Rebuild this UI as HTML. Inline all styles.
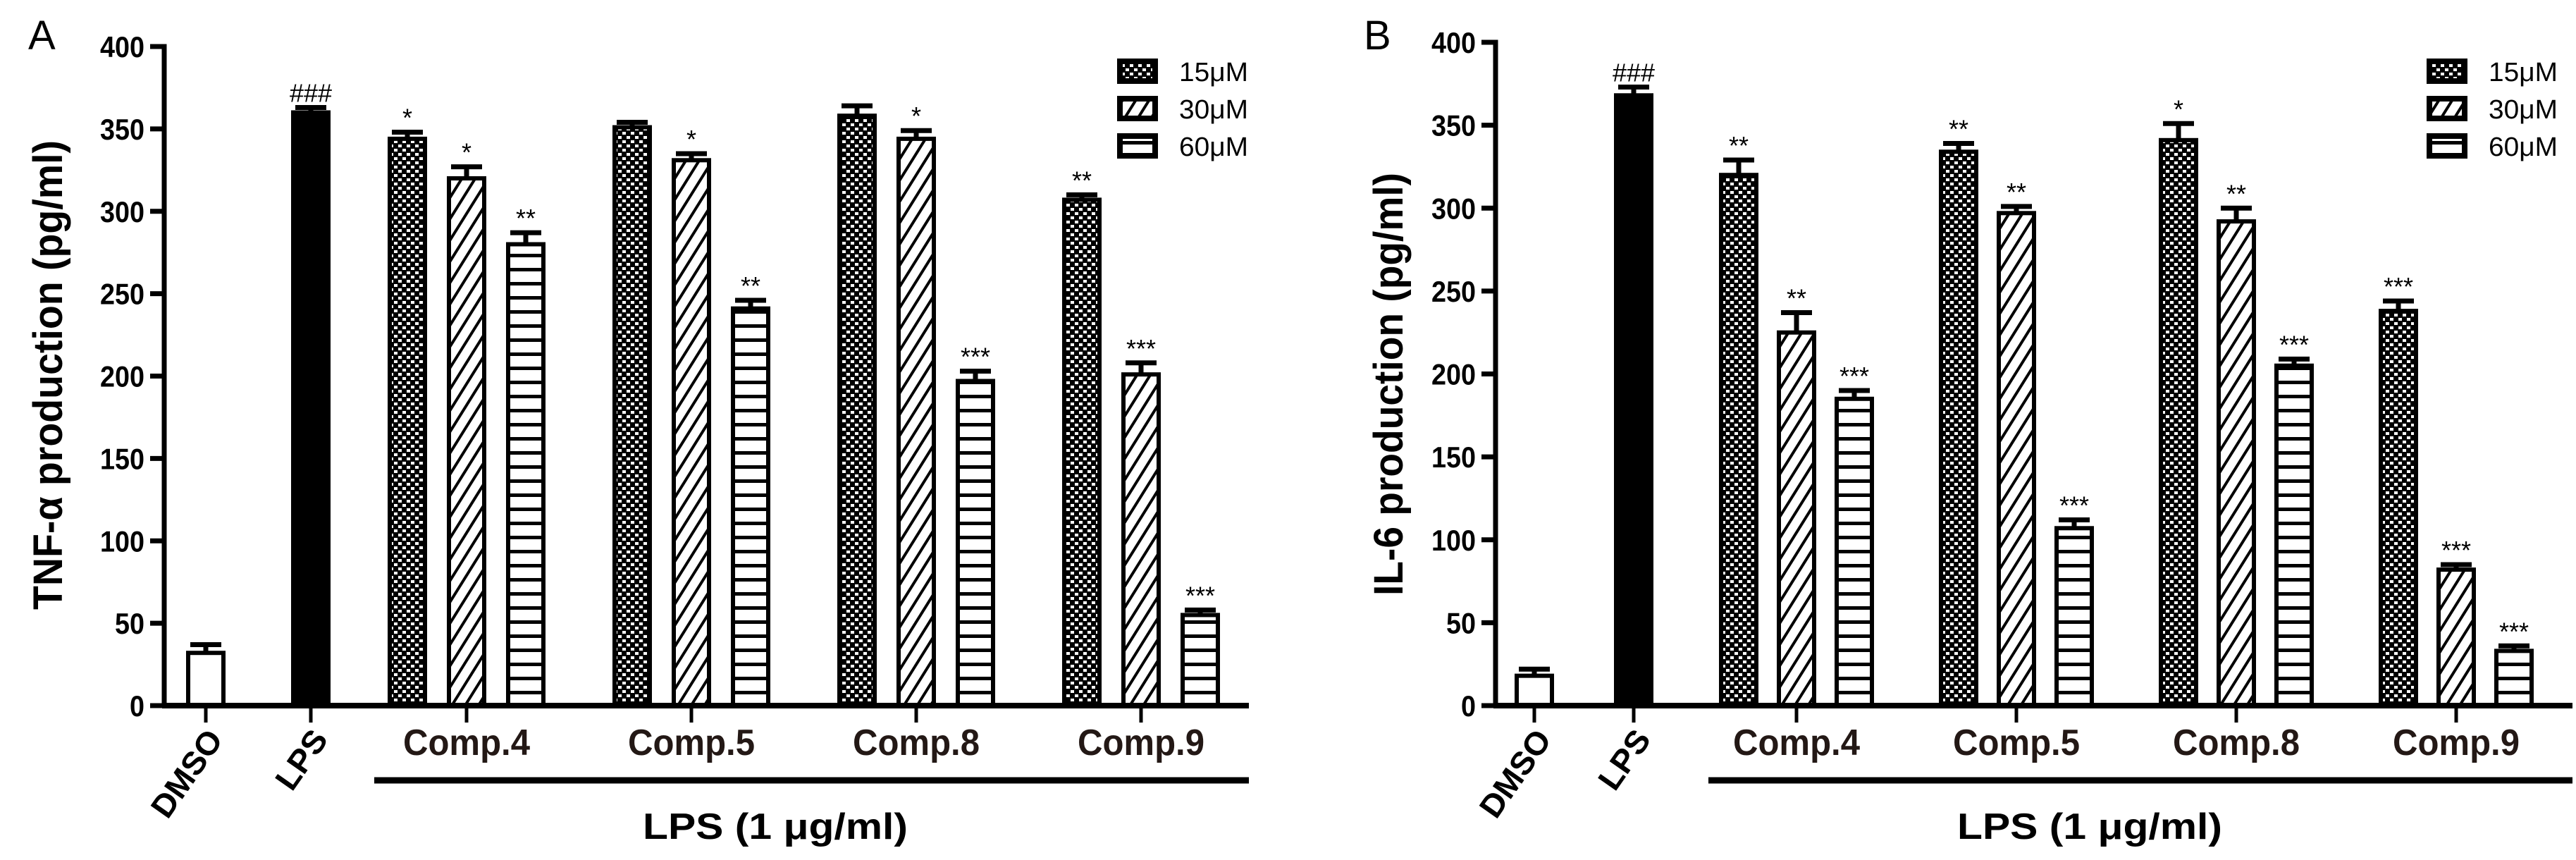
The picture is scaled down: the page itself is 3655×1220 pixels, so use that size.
<!DOCTYPE html>
<html><head><meta charset="utf-8"><title>TNF-α and IL-6 production</title>
<style>html,body{margin:0;padding:0;background:#fff}svg{display:block}text{font-family:"Liberation Sans",Arial,sans-serif}</style></head>
<body>
<svg id="chart" xmlns="http://www.w3.org/2000/svg" width="3655" height="1220" viewBox="0 0 3655 1220">
<defs>
<pattern id="p15" width="12" height="12" patternUnits="userSpaceOnUse">
<rect width="12" height="12" fill="#000"/><rect x="1" y="1" width="5" height="4" fill="#fff"/><rect x="7" y="7" width="5" height="4" fill="#fff"/></pattern>
<pattern id="p30" width="16" height="16" patternUnits="userSpaceOnUse" patternTransform="rotate(-58)">
<rect width="16" height="16" fill="#fff"/><rect width="16" height="4" fill="#000"/></pattern>
<pattern id="p60" width="20" height="20" patternUnits="userSpaceOnUse">
<rect width="20" height="20" fill="#fff"/><rect y="0" width="20" height="5" fill="#000"/></pattern>
</defs>
<g id="root"></g>
</svg>
<script>
// ---- data ----
const yTicks = [0, 50, 100, 150, 200, 250, 300, 350, 400];
const doseLabels = ["15μM", "30μM", "60μM"];
const compounds = ["Comp.4", "Comp.5", "Comp.8", "Comp.9"];
const tnfDMSO = 32, tnfDMSOErr = 5;
const tnfLPS = 360, tnfLPSErr = 3;
const tnf15 = [344, 351, 358, 307];
const tnf30 = [320, 331, 344, 201];
const tnf60 = [280, 241, 197, 55];
const tnf15Err = [4, 3, 6, 3];
const tnf30Err = [7, 4, 5, 7];
const tnf60Err = [7, 5, 6, 3];
const tnf15Sig = ["*", "", "", "**"];
const tnf30Sig = ["*", "*", "*", "***"];
const tnf60Sig = ["**", "**", "***", "***"];
const il6DMSO = 18, il6DMSOErr = 4;
const il6LPS = 368, il6LPSErr = 5;
const il615 = [320, 334, 341, 238];
const il630 = [225, 297, 292, 82];
const il660 = [185, 107, 205, 33];
const il615Err = [9, 5, 10, 6];
const il630Err = [12, 4, 8, 3];
const il660Err = [5, 5, 4, 3];
const il615Sig = ["**", "**", "*", "***"];
const il630Sig = ["**", "**", "**", "***"];
const il660Sig = ["***", "***", "***", "***"];

const NS = "http://www.w3.org/2000/svg";
const root = document.getElementById('root');
function mk(tag, attrs, parent, txt) {
  const e = document.createElementNS(NS, tag);
  for (const k in attrs) e.setAttribute(k, attrs[k]);
  if (txt !== undefined) e.textContent = txt;
  (parent || root).appendChild(e);
  return e;
}

function panel(cfg) {
  const g = mk('g', {});
  
  
  const y = v => cfg.y0 - (v / 400) * (cfg.y0 - cfg.y400);
  const xDMSO = cfg.xDMSO, xLPS = cfg.xLPS;
  const gx = i => cfg.gStart + i * cfg.gStep;
  const bx = (i, j) => gx(i) + (j - 1) * cfg.bStep;
  const W = 56;
  function bar(cx, v, err, fill, sig, nm) {
    const r = mk('rect', {x: cx - W / 2 + 3, y: y(v), width: W - 6, height: cfg.y0 - y(v), fill: fill, stroke: '#000', 'stroke-width': 6}, g);
    
    
    const e = mk('path', {d: `M${cx} ${y(v)} V${y(v + err)} M${cx - 22} ${y(v + err)} H${cx + 22}`, stroke: '#000', 'stroke-width': 7, fill: 'none'}, g);
    
    
    if (sig) {
      const t = mk('text', {x: cx, y: y(v + err) - 8, 'text-anchor': 'middle', 'font-size': 36, fill: '#000'}, g, sig);
      
      
    }
  }
  bar(xDMSO, cfg.dmso, cfg.dmsoErr, '#fff', '', 'bar-dmso');
  bar(xLPS, cfg.lps, cfg.lpsErr, '#000', '###', 'bar-lps');
  const fills = ['url(#p15)', 'url(#p30)', 'url(#p60)'];
  for (let i = 0; i < 4; i++) {
    for (let j = 0; j < 3; j++) {
      bar(bx(i, j), cfg.vals[j][i], cfg.errs[j][i], fills[j], cfg.sigs[j][i], 'bar-' + compounds[i].toLowerCase().replace('.', '') + '-' + ['15', '30', '60'][j]);
    }
  }
  const ya = mk('path', {d: `M${cfg.ax - 20} ${cfg.y400} H${cfg.ax} V${cfg.y0}`, stroke: '#000', 'stroke-width': 7, fill: 'none'}, g);
  
  
  const xa = mk('line', {x1: cfg.ax - 3, x2: cfg.axEnd, y1: cfg.y0, y2: cfg.y0, stroke: '#000', 'stroke-width': 8}, g);
  
  
  yTicks.forEach(v => {
    const tk = mk('line', {x1: cfg.ax - 20, x2: cfg.ax, y1: y(v), y2: y(v), stroke: '#000', 'stroke-width': 7}, g);
    
    
    const s = String(v);
    const t = mk('text', {x: cfg.ax - 28, y: y(v) + 15, 'text-anchor': 'end', 'font-size': 42, 'font-weight': 'bold', textLength: 21 * s.length, lengthAdjust: 'spacingAndGlyphs'}, g, s);
    
    
  });
  const xt = [xDMSO, xLPS, gx(0), gx(1), gx(2), gx(3)];
  xt.forEach(x => {
    const tk = mk('line', {x1: x, x2: x, y1: cfg.y0, y2: cfg.y0 + 24, stroke: '#000', 'stroke-width': 5}, g);
    
    
  });
  [['DMSO', xDMSO, 140], ['LPS', xLPS, 92]].forEach(([s, x, L]) => {
    const t = mk('text', {x: 0, y: 0, 'text-anchor': 'end', 'font-size': 46, 'font-weight': 'bold', textLength: L, lengthAdjust: 'spacingAndGlyphs', transform: `translate(${x + 26},${cfg.y0 + 48}) rotate(-55)`}, g, s);
    
    
  });
  compounds.forEach((c, i) => {
    const t = mk('text', {x: gx(i), y: cfg.y0 + 70, 'text-anchor': 'middle', 'font-size': 52, 'font-weight': 'bold', fill: '#231815', textLength: 180, lengthAdjust: 'spacingAndGlyphs'}, g, c);
    
    
  });
  const ln = mk('line', {x1: cfg.lineStart, x2: cfg.axEnd, y1: 1107, y2: 1107, stroke: '#000', 'stroke-width': 9}, g);
  
  
  const lt = mk('text', {x: cfg.lpsTextX, y: 1190, 'text-anchor': 'middle', 'font-size': 52, 'font-weight': 'bold', textLength: 376, lengthAdjust: 'spacingAndGlyphs'}, g, 'LPS  (1 μg/ml)');
  
  
  const yt = mk('text', {x: 0, y: 0, 'text-anchor': 'middle', 'font-size': 58, 'font-weight': 'bold', textLength: cfg.titleLen, lengthAdjust: 'spacingAndGlyphs', transform: `translate(${cfg.titleX},${cfg.titleY}) rotate(-90)`}, g, cfg.title);
  
  
  const pl = mk('text', {x: cfg.letterX, y: 70, 'font-size': 58}, g, cfg.letter);
  
  
  doseLabels.forEach((d, j) => {
    const cy = 101 + j * 53;
    const lg = mk('g', {}, g);
    
    
    mk('rect', {x: cfg.legX + 4, y: cy - 14, width: 50, height: 28, fill: fills[j], stroke: '#000', 'stroke-width': 8}, lg);
    mk('text', {x: cfg.legX + 88, y: cy + 14, 'font-size': 38, textLength: 98, lengthAdjust: 'spacingAndGlyphs'}, lg, d);
  });
}

panel({name: 'panel-a-tnf', letter: 'A', letterX: 40, ax: 233, axEnd: 1772, y0: 1001, y400: 66,
  xDMSO: 292, xLPS: 441, gStart: 662, gStep: 319, bStep: 84,
  dmso: tnfDMSO, dmsoErr: tnfDMSOErr, lps: tnfLPS, lpsErr: tnfLPSErr,
  vals: [tnf15, tnf30, tnf60], errs: [tnf15Err, tnf30Err, tnf60Err], sigs: [tnf15Sig, tnf30Sig, tnf60Sig],
  lineStart: 531, lpsTextX: 1100, title: 'TNF-α production (pg/ml)', titleX: 88, titleY: 532, titleLen: 666, legX: 1585});
panel({name: 'panel-b-il6', letter: 'B', letterX: 1935, ax: 2122, axEnd: 3650, y0: 1001, y400: 60,
  xDMSO: 2177, xLPS: 2318, gStart: 2549, gStep: 312, bStep: 82,
  dmso: il6DMSO, dmsoErr: il6DMSOErr, lps: il6LPS, lpsErr: il6LPSErr,
  vals: [il615, il630, il660], errs: [il615Err, il630Err, il660Err], sigs: [il615Sig, il630Sig, il660Sig],
  lineStart: 2424, lpsTextX: 2965, title: 'IL-6 production (pg/ml)', titleX: 1990, titleY: 545, titleLen: 600, legX: 3443});
</script>
</body></html>
